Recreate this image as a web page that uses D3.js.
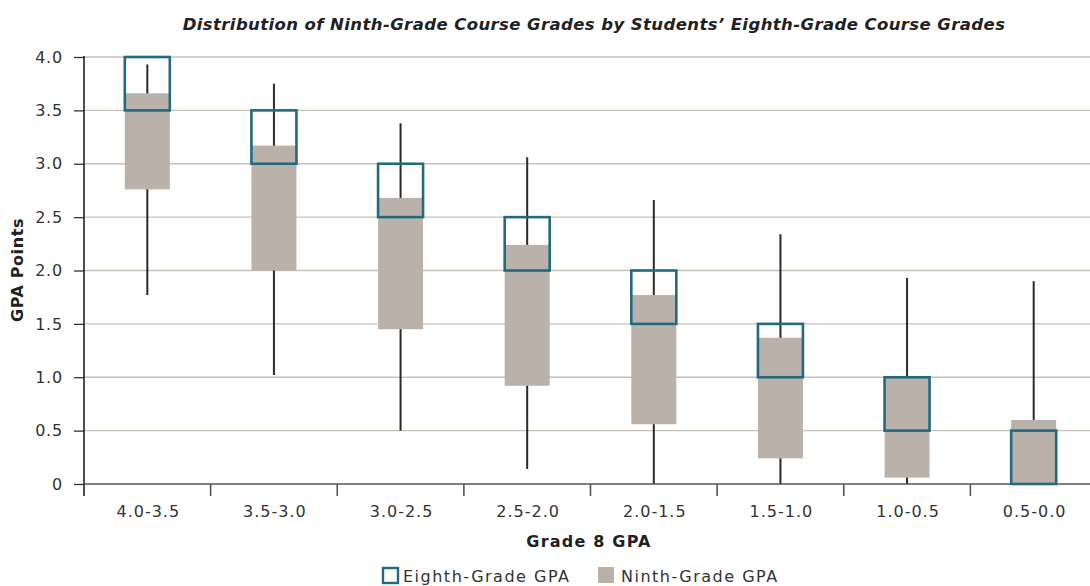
<!DOCTYPE html>
<html>
<head>
<meta charset="utf-8">
<script src="https://cdn.jsdelivr.net/npm/d3@7"></script>
<style>
  body { margin: 0; background: #fff; }
  text { font-family: "DejaVu Sans", sans-serif; }
</style>
</head>
<body>
<svg id="chart" width="1090" height="586"></svg>
<script>
// values
var categories = ["4.0-3.5", "3.5-3.0", "3.0-2.5", "2.5-2.0", "2.0-1.5", "1.5-1.0", "1.0-0.5", "0.5-0.0"];
var eighthHigh = [4.0, 3.5, 3.0, 2.5, 2.0, 1.5, 1.0, 0.5];
var eighthLow  = [3.5, 3.0, 2.5, 2.0, 1.5, 1.0, 0.5, 0.0];
var ninthHigh  = [3.66, 3.17, 2.68, 2.24, 1.77, 1.37, 1.0, 0.6];
var ninthLow   = [2.76, 2.0, 1.45, 0.92, 0.56, 0.24, 0.06, 0.0];
var whiskerHigh = [3.93, 3.75, 3.38, 3.06, 2.66, 2.34, 1.93, 1.90];
var whiskerLow  = [1.77, 1.02, 0.50, 0.14, 0.0, 0.0, 0.0, 0.0];
var yTicks = [0, 0.5, 1.0, 1.5, 2.0, 2.5, 3.0, 3.5, 4.0];

(function () {
    var svg = d3.select("#chart");
    var plotLeft = 84, plotRight = 1097, plotTop = 57, plotBottom = 484;

    var x = d3.scaleBand().domain(categories).range([plotLeft, plotRight]);
    var y = d3.scaleLinear().domain([0, 4]).range([plotBottom, plotTop]);
    var boxW = 45;
    var cx = function (d) { return x(d) + x.bandwidth() / 2; };

    // gridlines
    svg.append("g")
        .selectAll("line")
        .data(yTicks.filter(function (d) { return d > 0; }))
        .enter().append("line")
        .attr("x1", plotLeft).attr("x2", 1090)
        .attr("y1", function (d) { return y(d); })
        .attr("y2", function (d) { return y(d); })
        .attr("stroke", "#c9c0b7")
        .attr("stroke-width", 1.3);

    // y axis
    var yAxis = svg.append("g")
        .attr("transform", "translate(" + plotLeft + ",0)")
        .call(d3.axisLeft(y).tickValues(yTicks).tickSize(10).tickPadding(11)
            .tickFormat(function (d) { return d === 0 ? "0" : d3.format(".1f")(d); }));
    yAxis.select(".domain").remove();
    yAxis.selectAll(".tick line").attr("stroke", "#333").attr("stroke-width", 1.3);
    yAxis.selectAll("text").attr("font-size", 16).attr("fill", "#333")
        .attr("letter-spacing", 0.8)
        .style("font-family", "'DejaVu Sans', sans-serif");
    svg.append("line")
        .attr("x1", plotLeft).attr("x2", plotLeft)
        .attr("y1", plotTop - 1).attr("y2", plotBottom + 12)
        .attr("stroke", "#222").attr("stroke-width", 1.6);

    // whiskers
    svg.append("g")
        .selectAll("line")
        .data(categories)
        .enter().append("line")
        .attr("x1", cx).attr("x2", cx)
        .attr("y1", function (d, i) { return y(whiskerHigh[i]); })
        .attr("y2", function (d, i) { return y(whiskerLow[i]); })
        .attr("stroke", "#2a2a2a")
        .attr("stroke-width", 2);

    // ninth-grade boxes
    svg.append("g")
        .selectAll("rect")
        .data(categories)
        .enter().append("rect")
        .attr("x", function (d) { return cx(d) - boxW / 2; })
        .attr("width", boxW)
        .attr("y", function (d, i) { return y(ninthHigh[i]); })
        .attr("height", function (d, i) { return y(ninthLow[i]) - y(ninthHigh[i]); })
        .attr("fill", "#bab2aa");

    // x axis
    svg.append("line")
        .attr("x1", plotLeft).attr("x2", 1090)
        .attr("y1", plotBottom).attr("y2", plotBottom)
        .attr("stroke", "#555").attr("stroke-width", 1.6);
    svg.append("g")
        .selectAll("line")
        .data(categories.slice(1))
        .enter().append("line")
        .attr("x1", function (d) { return x(d); })
        .attr("x2", function (d) { return x(d); })
        .attr("y1", plotBottom).attr("y2", plotBottom + 12)
        .attr("stroke", "#555").attr("stroke-width", 1.6);
    svg.append("g")
        .selectAll("text")
        .data(categories)
        .enter().append("text")
        .attr("x", function (d) { return cx(d) + 1; })
        .attr("y", plotBottom + 33)
        .attr("text-anchor", "middle")
        .attr("font-size", 16)
        .attr("letter-spacing", 1)
        .attr("fill", "#333")
        .text(function (d) { return d; });

    // eighth-grade outline boxes
    svg.append("g")
        .selectAll("rect")
        .data(categories)
        .enter().append("rect")
        .attr("x", function (d) { return cx(d) - boxW / 2; })
        .attr("width", boxW)
        .attr("y", function (d, i) { return y(eighthHigh[i]); })
        .attr("height", function (d, i) { return y(eighthLow[i]) - y(eighthHigh[i]); })
        .attr("fill", "none")
        .attr("stroke", "#226a80")
        .attr("stroke-width", 2.6);

    // title
    svg.append("text")
        .attr("x", 594).attr("y", 30)
        .attr("text-anchor", "middle")
        .attr("font-size", 16.5)
        .attr("font-style", "italic")
        .attr("font-weight", 700)
        .attr("letter-spacing", 0.4)
        .attr("fill", "#222")
        .text("Distribution of Ninth-Grade Course Grades by Students\u2019 Eighth-Grade Course Grades");

    // axis titles
    svg.append("text")
        .attr("transform", "translate(23,270) rotate(-90)")
        .attr("text-anchor", "middle")
        .attr("font-size", 16)
        .attr("font-weight", 700)
        .attr("letter-spacing", 0.6)
        .attr("fill", "#222")
        .text("GPA Points");
    svg.append("text")
        .attr("x", 589).attr("y", 547)
        .attr("text-anchor", "middle")
        .attr("font-size", 16)
        .attr("font-weight", 700)
        .attr("letter-spacing", 1.2)
        .attr("fill", "#222")
        .text("Grade 8 GPA");

    // legend
    var legend = svg.append("g");
    legend.append("rect")
        .attr("x", 383).attr("y", 568).attr("width", 15).attr("height", 15)
        .attr("fill", "none").attr("stroke", "#226a80").attr("stroke-width", 2.4);
    legend.append("text")
        .attr("x", 403).attr("y", 582)
        .attr("font-size", 16).attr("letter-spacing", 1.5).attr("fill", "#333")
        .text("Eighth-Grade GPA");
    legend.append("rect")
        .attr("x", 598).attr("y", 567).attr("width", 16).attr("height", 16)
        .attr("fill", "#bab2aa");
    legend.append("text")
        .attr("x", 621).attr("y", 582)
        .attr("font-size", 16).attr("letter-spacing", 1.5).attr("fill", "#333")
        .text("Ninth-Grade GPA");
})();
</script>
</body>
</html>
